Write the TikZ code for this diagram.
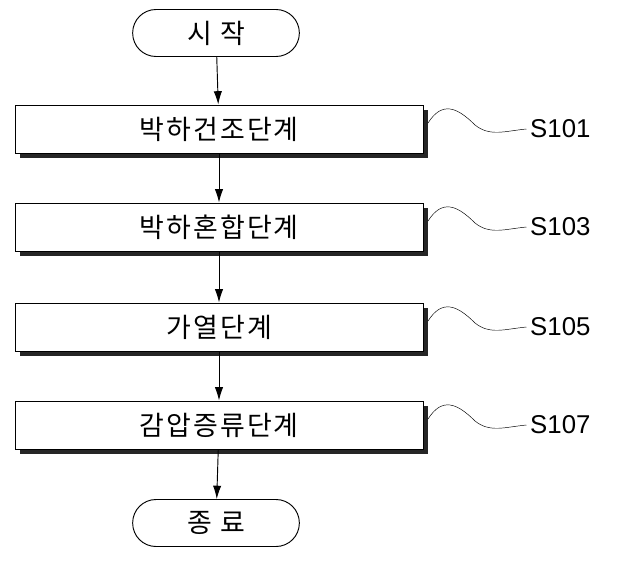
\documentclass[tikz,border=0pt]{standalone}
\usepackage{fontspec}
\setmainfont{Noto Sans CJK KR}[LetterSpace=8]
\newfontfamily\tagfont{Liberation Sans}
\usetikzlibrary{shadows}
\tikzset{
  stage/.style={draw, thick, fill=white, minimum width=12.24cm, minimum height=1.44cm,
    drop shadow={opacity=1, fill=black!85, shadow xshift=0.15cm, shadow yshift=-0.15cm},
    font=\fontsize{23}{26}\selectfont},
  term/.style={draw, thick, fill=white, rounded corners=0.7cm, minimum width=5cm, minimum height=1.41cm,
    font=\fontsize{23}{26}\selectfont},
  tag/.style={anchor=west, inner sep=0pt, font=\tagfont\fontsize{22}{26}\selectfont},
  flow/.style={-{Latex[length=4mm,width=2.5mm]}, thick}
}
\usetikzlibrary{arrows.meta}
\begin{document}
\begin{tikzpicture}[x=0.03cm, y=-0.03cm]
  \useasboundingbox (0,0) rectangle (617,563);
  \node [term] (start) at (216,33) {시 작};
  \node [stage] (s1) at (219,129) {박하건조단계};
  \node [stage] (s3) at (219,227) {박하혼합단계};
  \node [stage] (s5) at (219,327) {가열단계};
  \node [stage] (s7) at (219,425) {감압증류단계};
  \node [term] (end) at (216,523) {종 료};

  \draw [flow] (start) -- (s1);
  \draw [flow] (s1) -- (s3);
  \draw [flow] (s3) -- (s5);
  \draw [flow] (s5) -- (s7);
  \draw [flow] (s7) -- (end);

  % step labels
  \foreach \n/\y/\t in {s1/129/S101, s3/227/S103, s5/327/S105, s7/425/S107} {
    \node [tag] (l\n) at (530,\y) {\t};
    \coordinate (w\n) at (428,\y-6);
    \draw (w\n) .. controls (442,\y-28) and (457,\y-22) .. (475,\y-4)
      .. controls (490,\y+8) and (505,\y+2) .. ([xshift=-3pt]l\n.west);
  }
\end{tikzpicture}
\end{document}
